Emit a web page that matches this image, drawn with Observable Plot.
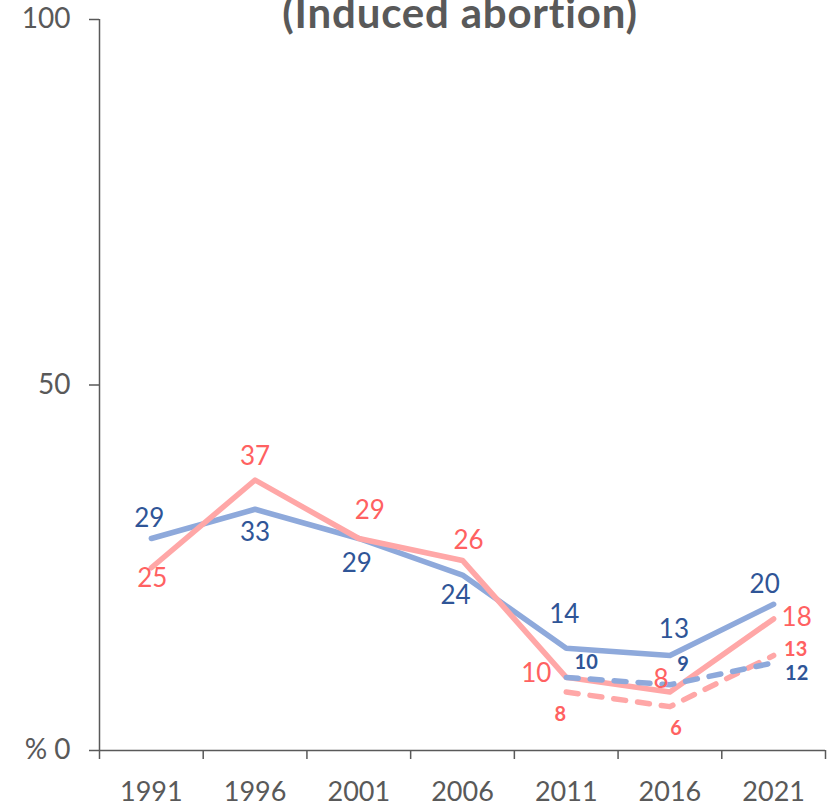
<!DOCTYPE html>
<html>
<head>
<meta charset="utf-8">
<script src="https://cdn.jsdelivr.net/npm/d3@7"></script>
<script src="https://cdn.jsdelivr.net/npm/@observablehq/plot@0.6"></script>
<style>
  html, body { margin: 0; padding: 0; background: #fff; }
  #wrap { position: relative; width: 835px; height: 805px; overflow: hidden; }
  #title { position: absolute; left: 460px; top: -9px; transform: translateX(-50%);
           font-family: Lato, sans-serif; font-weight: 700; font-size: 42px; line-height: 42px;
           color: #595959; white-space: nowrap; letter-spacing: 0.8px; }
  #chart { position: absolute; left: 0; top: 0; }
</style>
</head>
<body>
<div id="wrap">
  <div id="chart"></div>
  <div id="title">(Induced abortion)</div>
</div>
<script>
const years = [1991, 1996, 2001, 2006, 2011, 2016, 2021];
const blueSolid = [29, 33, 29, 24, 14, 13, 20];
const pinkSolid = [25, 37, 29, 26, 10, 8, 18];
const dashYears = [2011, 2016, 2021];
const blueDashed = [10, 9, 12];
const pinkDashed = [8, 6, 13];
const yTicks = [0, 50, 100];

// label nudges (pixels) for value labels
const blueSolidNudge = [[-2,-20],[0,23],[-2,25],[-7,21],[-2,-33],[4,-26],[-9,-20]];
const pinkSolidNudge = [[1,11],[0,-23],[11,-28],[6,-20],[-30,-4],[-9,-12],[23,-1]];
const blueDashedNudge = [[20,-15],[13,-20],[23,11]];
const pinkDashedNudge = [[-6,23],[6,22],[22,-6]];

const colors = {
  blueLine: "#8EA9DB", blueText: "#2F5597",
  pinkLine: "#FFA7A7", pinkText: "#FF6161",
  axis: "#595959"
};

const rows = (xs, vs, nudge) => xs.map((x, i) => ({x, v: vs[i], dx: nudge[i][0], dy: nudge[i][1]}));
const bS = rows(years, blueSolid, blueSolidNudge);
const pS = rows(years, pinkSolid, pinkSolidNudge);
const bD = rows(dashYears, blueDashed, blueDashedNudge);
const pD = rows(dashYears, pinkDashed, pinkDashedNudge);

const step = years[1] - years[0];
const x0 = years[0] - step / 2;
const x1 = years[years.length - 1] + step / 2;
const boundaries = d3.range(years.length + 1).map(i => x0 + i * step);

function labels(data, fill, fontSize, fontWeight) {
  return data.map(d => Plot.text([d], {
    x: "x", y: "v", text: r => String(r.v), dx: d.dx, dy: d.dy,
    fill, fontSize, fontWeight, textAnchor: "middle", lineAnchor: "middle"
  }));
}

const lineStyle = {strokeWidth: 5.5, strokeLinejoin: "round", strokeLinecap: "round"};

const chart = Plot.plot({
  width: 835, height: 805,
  marginLeft: 99, marginRight: 10, marginTop: 19, marginBottom: 55,
  x: {type: "linear", domain: [x0, x1]},
  y: {domain: [0, 100]},
  style: {fontFamily: "Lato, sans-serif", color: colors.axis, background: "transparent"},
  marks: [
    Plot.axisY({ticks: yTicks, tickSize: 10, tickPadding: 19, strokeWidth: 1.5,
      tickFormat: d => d === 0 ? "% 0" : String(d), fontSize: 28, label: null, fill: colors.axis}),
    Plot.axisX({ticks: boundaries, tickSize: 9, strokeWidth: 1.5, tickFormat: () => "", label: null}),
    Plot.axisX({ticks: years, tickSize: 0, tickPadding: 31, tickFormat: d => String(d),
      fontSize: 27, label: null, fill: colors.axis}),
    Plot.ruleX([x0], {y1: 0, y2: 100, stroke: colors.axis, strokeWidth: 1.5}),
    Plot.ruleY([0], {stroke: colors.axis, strokeWidth: 1.5}),
    Plot.line(bS, {x: "x", y: "v", stroke: colors.blueLine, ...lineStyle}),
    Plot.line(pS, {x: "x", y: "v", stroke: colors.pinkLine, ...lineStyle}),
    Plot.line(pD, {x: "x", y: "v", stroke: colors.pinkLine, ...lineStyle, strokeDasharray: "12 12"}),
    Plot.line(bD, {x: "x", y: "v", stroke: colors.blueLine, ...lineStyle, strokeDasharray: "12 12"}),
    ...labels(bS, colors.blueText, 26, 400),
    ...labels(pS, colors.pinkText, 26, 400),
    ...labels(bD, colors.blueText, 20, 700),
    ...labels(pD, colors.pinkText, 20, 700)
  ]
});
document.getElementById("chart").appendChild(chart);
</script>
</body>
</html>
